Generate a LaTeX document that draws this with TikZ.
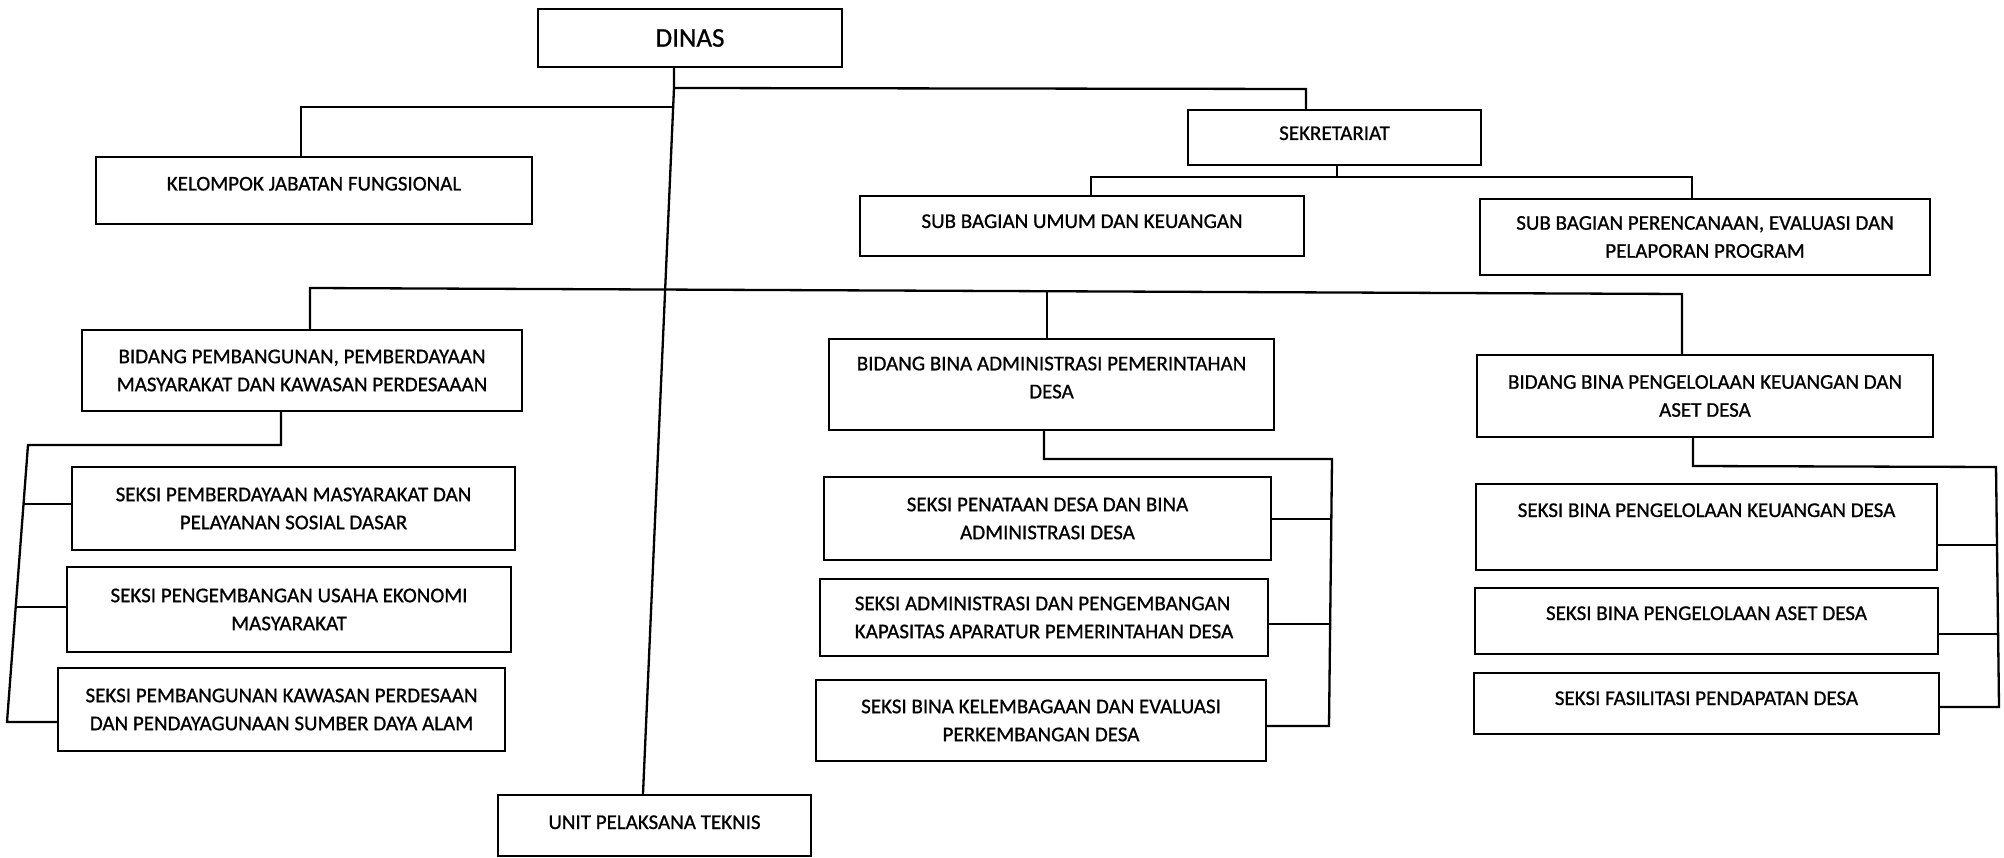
\documentclass[tikz,border=0pt]{standalone}
\usepackage{fontspec}
\setmainfont[FakeBold=0.8]{Carlito}
\begin{document}
\begin{tikzpicture}[x=1pt,y=-1pt,
  box/.style={draw, line width=2.4pt, align=center, inner sep=0pt,
    font=\fontsize{21}{28}\selectfont},
  conn/.style={line width=2.3pt, line join=miter}]
\useasboundingbox (0,0) rectangle (2004,858);
% boxes
\node[box, minimum width=304pt, minimum height=58pt, font=\fontsize{27}{32}\selectfont] (dinas) at (690,38) {DINAS};
\node[box, minimum width=436pt, minimum height=67pt, text height=15pt, text depth=15pt] (kel) at (314,190.5) {KELOMPOK JABATAN FUNGSIONAL};
\node[box, minimum width=293pt, minimum height=55pt, text height=15pt, text depth=10pt] (sek) at (1334.5,137.5) {SEKRETARIAT};
\node[box, minimum width=444pt, minimum height=60pt, text height=15pt, text depth=11pt] (sbu) at (1082,226) {SUB BAGIAN UMUM DAN KEUANGAN};
\node[box, minimum width=450pt, minimum height=76pt] (sbp) at (1705,237) {SUB BAGIAN PERENCANAAN, EVALUASI DAN\\PELAPORAN PROGRAM};
\node[box, minimum width=440pt, minimum height=81pt] (bp) at (302,370.5) {BIDANG PEMBANGUNAN, PEMBERDAYAAN\\MASYARAKAT DAN KAWASAN PERDESAAAN};
\node[box, minimum width=445pt, minimum height=91pt] (bba) at (1051.5,384.5) {BIDANG BINA ADMINISTRASI PEMERINTAHAN\\DESA\\[-14pt]\mbox{}};
\node[box, minimum width=456pt, minimum height=82pt] (bbp) at (1705,396) {BIDANG BINA PENGELOLAAN KEUANGAN DAN\\ASET DESA};
\node[box, minimum width=443pt, minimum height=83pt] (s1) at (293.5,508.5) {SEKSI PEMBERDAYAAN MASYARAKAT DAN\\PELAYANAN SOSIAL DASAR};
\node[box, minimum width=444pt, minimum height=85pt] (s2) at (289,609.5) {SEKSI PENGEMBANGAN USAHA EKONOMI\\MASYARAKAT};
\node[box, minimum width=447pt, minimum height=83pt] (s3) at (281.5,709.5) {SEKSI PEMBANGUNAN KAWASAN PERDESAAN\\DAN PENDAYAGUNAAN SUMBER DAYA ALAM};
\node[box, minimum width=447pt, minimum height=83pt] (s4) at (1047.5,518.5) {SEKSI PENATAAN DESA DAN BINA\\ADMINISTRASI DESA};
\node[box, minimum width=448pt, minimum height=77pt, align=left] (s5) at (1044,617.5) {SEKSI ADMINISTRASI DAN PENGEMBANGAN\\KAPASITAS APARATUR PEMERINTAHAN DESA};
\node[box, minimum width=450pt, minimum height=81pt] (s6) at (1041,720.5) {SEKSI BINA KELEMBAGAAN DAN EVALUASI\\PERKEMBANGAN DESA};
\node[box, minimum width=461pt, minimum height=86pt, text height=15pt, text depth=35pt] (s7) at (1706.5,527) {SEKSI BINA PENGELOLAAN KEUANGAN DESA};
\node[box, minimum width=463pt, minimum height=66pt, text height=15pt, text depth=17pt] (s8) at (1706.5,621) {SEKSI BINA PENGELOLAAN ASET DESA};
\node[box, minimum width=465pt, minimum height=61pt, text height=15pt, text depth=12pt] (s9) at (1706.5,703.5) {SEKSI FASILITASI PENDAPATAN DESA};
\node[box, minimum width=313pt, minimum height=61pt, text height=15pt, text depth=8pt] (unit) at (654.5,825.5) {UNIT PELAKSANA TEKNIS};
% junction points
\coordinate (tA) at (674,88);
\coordinate (tB) at (643,795);
\coordinate (kT) at (672,107);
\coordinate (kA) at (301,107);
\coordinate (sA) at (1306,89);
\coordinate (sc) at (1337,177);
\coordinate (sl) at (1091,177);
\coordinate (sr) at (1692,177);
\coordinate (hL) at (310,288);
\coordinate (hM) at (1047,291);
\coordinate (hR) at (1682,294);
\coordinate (bpx) at (281,445);
\coordinate (lsT) at (28,445);
\coordinate (b1) at (23.5,504);
\coordinate (b2) at (15.5,607);
\coordinate (b3) at (7,722);
\coordinate (bbx) at (1044,459);
\coordinate (msT) at (1332,459);
\coordinate (m1) at (1331,519);
\coordinate (m2) at (1330,624);
\coordinate (m3) at (1329,726);
\coordinate (bpx2) at (1693,466);
\coordinate (rsT) at (1996,467);
\coordinate (r1) at (1997,545);
\coordinate (r2) at (1998,634);
\coordinate (r3) at (1999,707);
% connectors
\draw[conn] (dinas.south -| tA) -- (tA) -- (unit.north -| tB);
\draw[conn] (tA) -- (sA) -- (sA |- sek.north);
\draw[conn] (kT) -- (kA) -- (kA |- kel.north);
\draw[conn] (sek.south -| sc) -- (sc);
\draw[conn] (sbu.north -| sl) -- (sl) -- (sr) -- (sbp.north -| sr);
\draw[conn] (bp.north -| hL) -- (hL) -- (hR) -- (bbp.north -| hR);
\draw[conn] (hM) -- (bba.north -| hM);
\draw[conn] (bp.south -| bpx) -- (bpx) -- (lsT) -- (b3) -- (s3.west |- b3);
\draw[conn] (b1) -- (s1.west |- b1);
\draw[conn] (b2) -- (s2.west |- b2);
\draw[conn] (bba.south -| bbx) -- (bbx) -- (msT) -- (m3) -- (s6.east |- m3);
\draw[conn] (m1) -- (s4.east |- m1);
\draw[conn] (m2) -- (s5.east |- m2);
\draw[conn] (bbp.south -| bpx2) -- (bpx2) -- (rsT) -- (r3) -- (s9.east |- r3);
\draw[conn] (r1) -- (s7.east |- r1);
\draw[conn] (r2) -- (s8.east |- r2);
\end{tikzpicture}
\end{document}
